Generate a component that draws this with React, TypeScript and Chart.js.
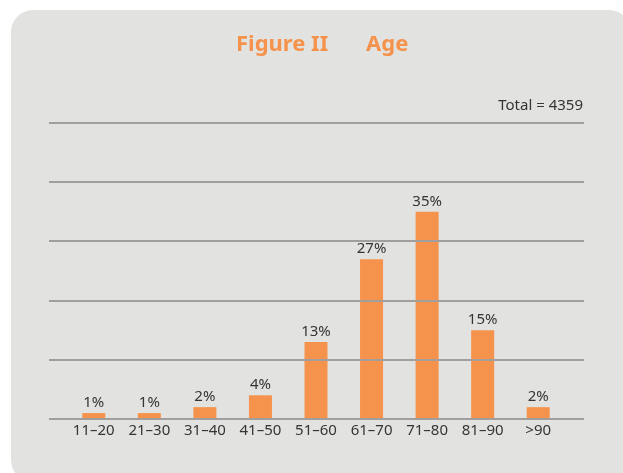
import React, { useEffect, useRef } from "react";
import { Chart, registerables } from "chart.js";

Chart.register(...registerables);

const categories = ["11–20", "21–30", "31–40", "41–50", "51–60", "61–70", "71–80", "81–90", ">90"];
const percentages = [1, 1, 2, 4, 13, 27, 35, 15, 2];
const titleLeft = "Figure II";
const titleRight = "Age";
const totalLabel = "Total = 4359";
const yTicks = [0, 10, 20, 30, 40, 50];

const FONT = "'Noto Sans', sans-serif";
const ORANGE = "#F5924B";
const PANEL = "#E2E2E0";
const GRID = "#A19F9D";
const TEXT = "#353535";

const decorPlugin = {
  id: "decor",
  beforeDraw(chart: any) {
    const ctx = chart.ctx;
    ctx.save();
    ctx.fillStyle = "#ffffff";
    ctx.fillRect(0, 0, chart.width, chart.height);
    ctx.fillStyle = PANEL;
    ctx.beginPath();
    (ctx as any).roundRect(11, 10, 620, 472, 22);
    ctx.fill();
    // title
    ctx.fillStyle = ORANGE;
    ctx.font = "bold 22px 'Noto Sans', sans-serif";
    ctx.textBaseline = "alphabetic";
    ctx.textAlign = "left";
    ctx.fillText(titleLeft, 236, 51);
    ctx.fillText(titleRight, 366, 51);
    // total
    ctx.fillStyle = TEXT;
    ctx.font = "15px " + FONT;
    ctx.textAlign = "right";
    ctx.fillText(totalLabel, 583, 110);
    ctx.restore();
  },
  afterDatasetsDraw(chart: any) {
    const ctx = chart.ctx;
    const y = chart.scales.y;
    ctx.save();
    ctx.strokeStyle = GRID;
    ctx.lineWidth = 2;
    yTicks.forEach((v) => {
      const py = Math.round(y.getPixelForValue(v));
      ctx.beginPath();
      ctx.moveTo(49, py);
      ctx.lineTo(584, py);
      ctx.stroke();
    });
    const meta = chart.getDatasetMeta(0);
    ctx.fillStyle = TEXT;
    ctx.font = "15px " + FONT;
    ctx.textAlign = "center";
    ctx.textBaseline = "bottom";
    meta.data.forEach((bar: any, i: number) => {
      ctx.fillText(percentages[i] + "%", bar.x, bar.y - 3);
    });
    ctx.restore();
  },
};

export default function App() {
  const ref = useRef<HTMLCanvasElement>(null);
  useEffect(() => {
    if (!ref.current) return;
    const chart = new Chart(ref.current, {
      type: "bar",
      data: {
        labels: categories,
        datasets: [
          {
            data: percentages,
            backgroundColor: ORANGE,
            borderWidth: 0,
            barPercentage: 1,
            categoryPercentage: 0.414,
          },
        ],
      },
      options: {
        animation: false,
        responsive: false,
        maintainAspectRatio: false,
        layout: { padding: { left: 66, right: 57, top: 123, bottom: 30 } },
        plugins: { legend: { display: false }, tooltip: { enabled: false }, title: { display: false } },
        scales: {
          x: {
            grid: { display: false, drawTicks: false },
            border: { display: false },
            ticks: { color: TEXT, font: { family: FONT, size: 15 }, padding: 3, maxRotation: 0 },
          },
          y: { display: false, min: 0, max: 50 },
        },
      },
      plugins: [decorPlugin],
    });
    return () => chart.destroy();
  }, []);
  return (
    <div style={{ position: "absolute", left: 0, top: 0, width: 623, height: 473 }}>
      <canvas ref={ref} width={623} height={473} style={{ display: "block" }} />
    </div>
  );
}
